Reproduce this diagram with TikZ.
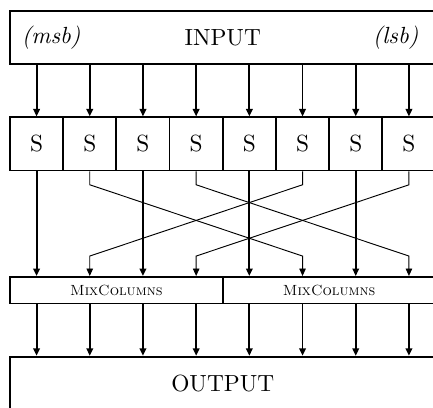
\documentclass[tikz,border=0pt]{standalone}
\usetikzlibrary{arrows.meta,calc}
\begin{document}
\begin{tikzpicture}[>={Triangle[length=3.2pt,width=2.8pt]},box/.style={draw,thick,inner sep=0},wire/.style={->,thick},xwire/.style={->},mc/.style={font=\fontsize{6.3pt}{7pt}\selectfont}]
\useasboundingbox(-.15,.165)rectangle(6.362,-5.971);
\clip(-.15,.165)rectangle(6.362,-5.971);
\node[box,minimum width=6.4cm,minimum height=.8cm](inp)at(3.2,-.4){INPUT};
\node(msb)at(.62,-.4){\textit{(msb)}};\node(lsb)at(5.8,-.4){\textit{(lsb)}};
\foreach\i in{1,...,8}{\node[box,minimum size=.8cm](s\i)at(.8*\i-.4,-2){S};
  \draw[wire](inp.south-|s\i)--(s\i);}
\node[box,mc,minimum width=3.2cm,minimum height=.4cm](m1)at(1.6,-4.2){\textsc{MixColumns}};
\node[box,mc,minimum width=3.2cm,minimum height=.4cm](m2)at(4.8,-4.2){\textsc{MixColumns}};
\node[box,minimum width=6.4cm,minimum height=.8cm](outp)at(3.2,-5.6){OUTPUT};
\foreach\i/\m in{1/m1,3/m1,5/m2,7/m2}\draw[wire](s\i.south)--(s\i.south|-\m.north);
\foreach\a/\b/\m in{2/6/m2,4/8/m2,6/2/m1,8/4/m1}
  \draw[xwire](s\a.south)--++(0,-.2)--($(s\b.south|-\m.north)+(0,.3)$)--(s\b.south|-\m.north);
\foreach\i in{1,...,8}\draw[wire](s\i|-m1.south)--(s\i|-outp.north);
\end{tikzpicture}
\end{document}
